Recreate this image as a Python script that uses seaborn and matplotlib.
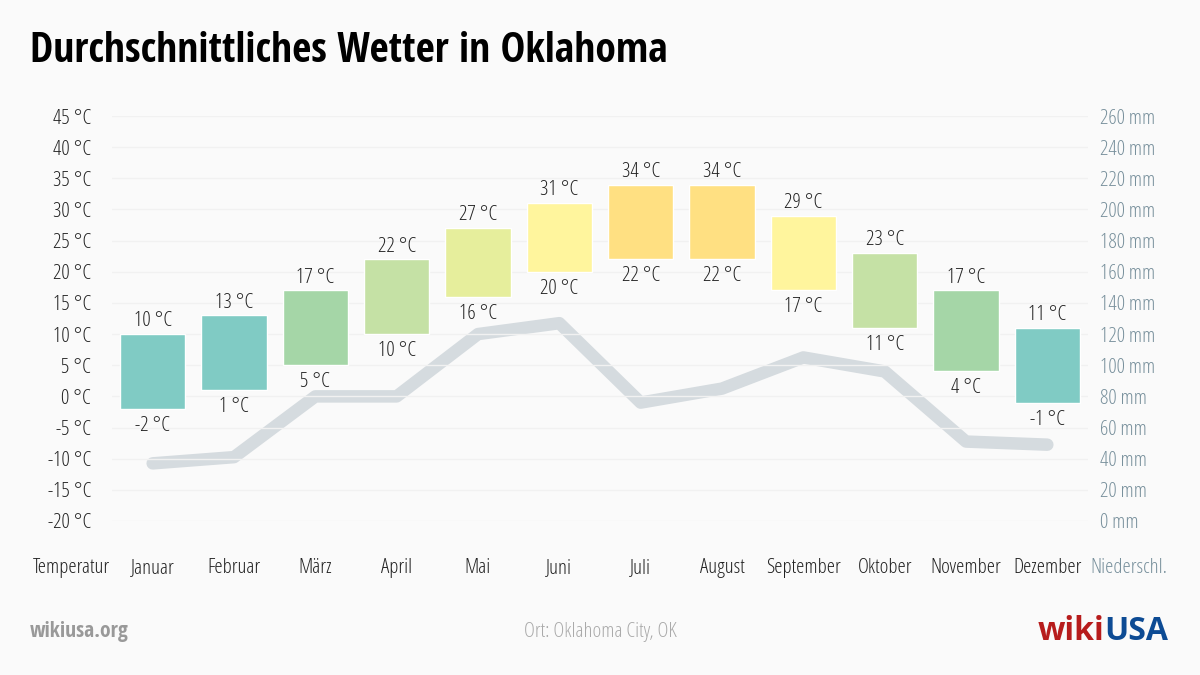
import matplotlib
matplotlib.use('Agg')
import matplotlib.pyplot as plt
import seaborn as sns
import pandas as pd
import numpy as np

months = ['Januar', 'Februar', 'März', 'April', 'Mai', 'Juni', 'Juli',
          'August', 'September', 'Oktober', 'November', 'Dezember']
temp_max = [10, 13, 17, 22, 27, 31, 34, 34, 29, 23, 17, 11]
temp_min = [-2, 1, 5, 10, 16, 20, 22, 22, 17, 11, 4, -1]
precip_mm = [37, 41, 80, 80, 120, 127, 76, 85, 105, 96, 51, 49]

temp_ticks = list(range(-20, 50, 5))
precip_ticks = list(range(0, 280, 20))

# bar colours per month (material 200 tones)
bar_colors = ['#80cbc4', '#80cbc4', '#a5d6a7', '#c5e1a5', '#e6ee9c', '#fff59d',
              '#ffe082', '#ffe082', '#fff59d', '#c5e1a5', '#a5d6a7', '#80cbc4']

df = pd.DataFrame({'Monat': months, 'Max': temp_max, 'Min': temp_min, 'Niederschlag': precip_mm})
df['Spanne'] = df['Max'] - df['Min']
df['pos'] = np.arange(1, 13)

sns.set_theme(style='white')
bg = '#fafafa'
plt.rcParams['font.family'] = ['Open Sans', 'DejaVu Sans']
plt.rcParams['font.stretch'] = 'condensed'
plt.rcParams['font.weight'] = 'light'

fig = plt.figure(figsize=(12, 6.75), dpi=100, facecolor=bg)
W, H = 1200, 675
ax_left, ax_right, ax_top, ax_bot = 112, 1088, 116, 521
ax = fig.add_axes([ax_left / W, 1 - ax_bot / H, (ax_right - ax_left) / W, (ax_bot - ax_top) / H])
ax.set_facecolor(bg)
ax.set_xlim(0.5, 12.5)
ax.set_ylim(-20, 45)

ax2 = ax.twinx()
ax2.set_ylim(0, 260)

for t in temp_ticks:
    ax.axhline(t, color='#f1f1f1', lw=1, zorder=0)

# precipitation line
sns.lineplot(x=df['pos'], y=df['Niederschlag'], ax=ax2, color='#d5dbdf', lw=9,
             solid_capstyle='round', solid_joinstyle='round', zorder=1)
ax2.set_zorder(0)
ax.set_zorder(1)
ax.patch.set_visible(False)

ax.bar(df['pos'], df['Spanne'], bottom=df['Min'], width=0.8, color=bar_colors, zorder=2)

lab_kw = dict(fontsize=15, color='#222222')
for p, hi, lo in zip(df['pos'], df['Max'], df['Min']):
    ax.annotate(f'{hi} °C', (p, hi), xytext=(0, 2), textcoords='offset points',
                ha='center', va='bottom', **lab_kw)
    ax.annotate(f'{lo} °C', (p, lo), xytext=(0, -5), textcoords='offset points',
                ha='center', va='top', **lab_kw)

ax.set_yticks(temp_ticks)
ax.set_yticklabels([f'{t} °C' for t in temp_ticks], fontsize=15, color='#222222')
ax2.set_yticks(precip_ticks)
ax2.set_yticklabels([f'{t} mm' for t in precip_ticks], fontsize=15, color='#78909c')
ax.tick_params(axis='y', length=0, pad=15)
ax2.tick_params(axis='y', length=0, pad=9)
ax.set_xticks([])
ax2.set_xticks([])
for a in (ax, ax2):
    for s in a.spines.values():
        s.set_visible(False)
ax.set_xlabel('')
ax2.set_ylabel('')
ax.set_ylabel('')

bottom_labels = ['Temperatur'] + months + ['Niederschl.']
for i, lab in enumerate(bottom_labels):
    ax.text(i, -27.5, lab, ha='center', va='center', fontsize=15, clip_on=False,
            color='#78909c' if lab == 'Niederschl.' else '#222222')

fig.text(30 / W, 1 - 52 / H, 'Durchschnittliches Wetter in Oklahoma', fontsize=30,
         family='Open Sans Condensed', fontweight='bold', color='black', ha='left', va='center')
fig.text(30 / W, 1 - 632 / H, 'wikiusa.org', fontsize=15.5, family='Open Sans Condensed',
         fontweight='bold', color='#999999', ha='left', va='center')
fig.text(600 / W, 1 - 632 / H, 'Ort: Oklahoma City, OK', fontsize=15, color='#aaaaaa',
         ha='center', va='center')

# logo: "wiki" red + "USA" blue
logo_kw = dict(fontsize=23, family='Open Sans', stretch='normal', fontweight='bold', va='center')
usa = fig.text(1168 / W, 1 - 632 / H, 'USA', color='#0d4b94', ha='right', **logo_kw)
fig.add_artist(plt.Annotation('wiki', xy=(0, 0.5), xycoords=usa, ha='right',
                              color='#b71c1c', **logo_kw))

fig.savefig('out.png', dpi=100, facecolor=bg)
